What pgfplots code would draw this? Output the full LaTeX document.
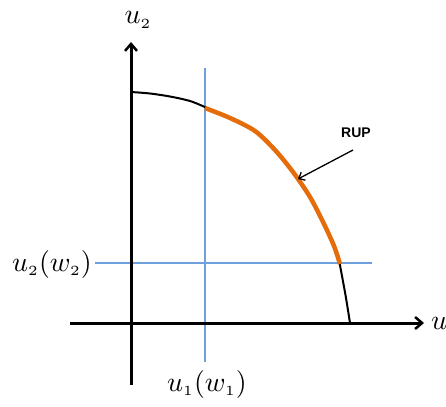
\documentclass[border=0pt]{standalone}
\usepackage{graphicx}
\usepackage{pgfplots}
\pgfplotsset{compat=1.18}
\usepackage{fontspec}
\setsansfont{Liberation Sans}
\usetikzlibrary{arrows.meta}
\definecolor{rupor}{RGB}{228,108,10}
\definecolor{lblue}{RGB}{110,160,222}
\newcommand{\biglbl}[1]{\scalebox{2.8}{$#1$}}
\begin{document}
\begin{tikzpicture}
\begin{axis}[
  scale only axis, width=446pt, height=406pt,
  xmin=0, xmax=446, ymin=0, ymax=406, y dir=reverse,
  hide axis, clip=false,
]
% blue reference lines
\addplot[lblue, line width=1.6pt] coordinates {(205,68) (205,362)};
\addplot[lblue, line width=1.6pt] coordinates {(95,263) (372,263)};
% axes
\addplot[black, line width=3pt, -{Straight Barb[length=7pt,width=12pt,line width=2.5pt]}] coordinates {(131,385) (131,42)};
\addplot[black, line width=3pt, -{Straight Barb[length=7pt,width=12pt,line width=2.5pt]}] coordinates {(70,323) (424,323)};
% frontier (black parts)
\addplot[black, line width=2pt, smooth] coordinates {(131,92) (150,93.5) (170,96.5) (190,101) (206,107.5)};
\addplot[black, line width=2pt, smooth] coordinates {(339,260) (342,276) (346,298) (350,323)};
% RUP (orange)
\addplot[rupor, line width=4.5pt, smooth] coordinates {(205,108) (230,118) (255,131) (275,150) (293,172) (310,197) (324,224) (334,246) (340,264)};
% RUP arrow
\addplot[black, line width=1.3pt, -{Straight Barb[length=5pt,width=9pt,line width=1.3pt]}] coordinates {(353,150) (298,179)};
\node[font=\sffamily\bfseries\fontsize{14}{16}\selectfont] at (axis cs:356,133) {RUP};
% labels
\node at (axis cs:138,20) {\biglbl{u_{\scriptscriptstyle 2}}};
\node at (axis cs:52,264) {\biglbl{u_{\scriptscriptstyle 2}(w_{\scriptscriptstyle 2})}};
\node at (axis cs:207,384) {\biglbl{u_{\scriptscriptstyle 1}(w_{\scriptscriptstyle 1})}};
\node[anchor=west, inner sep=0pt] at (axis cs:431,326) {\biglbl{u_{\scriptscriptstyle 1}}};
\end{axis}
\pgfresetboundingbox
\path (current axis.south west) rectangle (current axis.north east);
\end{tikzpicture}
\end{document}
